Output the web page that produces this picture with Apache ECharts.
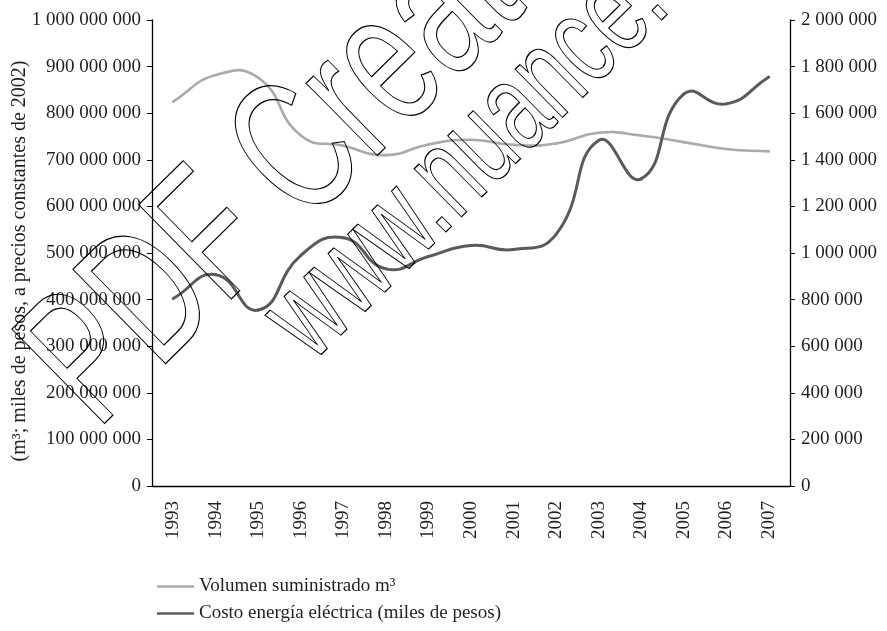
<!DOCTYPE html>
<html>
<head>
<meta charset="utf-8">
<script src="https://cdn.jsdelivr.net/npm/echarts@6/dist/echarts.min.js"></script>
<style>
  html, body { margin: 0; padding: 0; background: #fff; }
  #chart { width: 887px; height: 631px; }
</style>
</head>
<body>
<div id="chart"></div>
<script>
// Years on the category axis
const years = ['1993','1994','1995','1996','1997','1998','1999','2000','2001','2002','2003','2004','2005','2006','2007'];

// Volume supplied, m³ (left axis)
const volumen = [825e6, 882e6, 876e6, 752e6, 730e6, 710e6, 733e6, 743e6, 732e6, 735e6, 758e6, 752e6, 738e6, 723e6, 718e6];

// Electric energy cost, thousands of pesos (right axis)
const costo = [805000, 907000, 755000, 990000, 1065000, 932000, 985000, 1032000, 1015000, 1080000, 1483000, 1318000, 1682000, 1640000, 1755000];

const serieNames = ['Volumen suministrado m³', 'Costo energía eléctrica (miles de pesos)'];
const yAxisName = '(m³; miles de pesos, a precios constantes de 2002)';

const serif = '"Liberation Serif", "Times New Roman", serif';
const ink = '#231f20';

// thousands grouped with spaces: 1 000 000
const groupDigits = v => String(Math.round(v)).replace(/\B(?=(\d{3})+(?!\d))/g, ' ');

// Smoothed line through every data point (cubic Bézier segments, control
// points scaled by neighbouring segment lengths, no clamping).
function smoothLine(values, color, width) {
  const SMOOTH = 0.5;
  return function (params, api) {
    if (params.dataIndex !== 0) return null;
    const pts = values.map((v, i) => api.coord([i, v]));
    const n = pts.length;
    const before = [], after = [];
    for (let i = 0; i < n; i++) {
      const p = pts[i];
      const prev = pts[i - 1] || p;
      const next = pts[i + 1] || p;
      const vx = next[0] - prev[0], vy = next[1] - prev[1];
      const d0 = Math.hypot(p[0] - prev[0], p[1] - prev[1]);
      const d1 = Math.hypot(next[0] - p[0], next[1] - p[1]);
      const sum = d0 + d1 || 1;
      before.push([p[0] - vx * SMOOTH * d0 / sum, p[1] - vy * SMOOTH * d0 / sum]);
      after.push([p[0] + vx * SMOOTH * d1 / sum, p[1] + vy * SMOOTH * d1 / sum]);
    }
    const children = [];
    for (let i = 0; i < n - 1; i++) {
      children.push({
        type: 'bezierCurve',
        shape: {
          x1: pts[i][0], y1: pts[i][1],
          x2: pts[i + 1][0], y2: pts[i + 1][1],
          cpx1: after[i][0], cpy1: after[i][1],
          cpx2: before[i + 1][0], cpy2: before[i + 1][1]
        },
        style: { stroke: color, lineWidth: width, fill: null, lineCap: 'round', lineJoin: 'round' }
      });
    }
    return { type: 'group', children: children };
  };
}

// Outlined diagonal stamp text, letters stretched along their height
function stamp(text, x, y, deg, size, stretch) {
  return {
    type: 'text',
    x: x, y: y,
    rotation: deg * Math.PI / 180,
    scaleY: stretch,
    silent: true,
    z: 100,
    style: {
      text: text,
      x: 0,
      y: -0.35 * size,
      font: size + 'px "Liberation Sans", Arial, sans-serif',
      fill: 'none',
      stroke: '#000',
      lineWidth: 0.85,
      textAlign: 'left',
      textVerticalAlign: 'middle'
    }
  };
}

const chart = echarts.init(document.getElementById('chart'), null, { renderer: 'canvas' });

chart.setOption({
  animation: false,
  backgroundColor: '#fff',
  textStyle: { fontFamily: serif, color: ink },
  grid: { left: 152, right: 97, top: 20, bottom: 145, containLabel: false, outerBoundsMode: 'none' },
  legend: {
    orient: 'vertical',
    left: 152,
    top: 572,
    itemWidth: 37,
    itemHeight: 2.5,
    itemGap: 8,
    icon: 'rect',
    data: serieNames,
    textStyle: { fontFamily: serif, fontSize: 19, color: ink, lineHeight: 19 }
  },
  xAxis: {
    type: 'category',
    data: years,
    boundaryGap: true,
    axisLine: { lineStyle: { color: '#000', width: 1.3 } },
    axisTick: { inside: true, length: 6, alignWithLabel: true, lineStyle: { color: '#000', width: 1 } },
    axisLabel: { rotate: 90, margin: 15, fontSize: 19, fontFamily: serif, color: ink, interval: 0 },
    splitLine: { show: false }
  },
  yAxis: [
    {
      type: 'value',
      position: 'left',
      min: 0, max: 1e9, interval: 1e8,
      name: yAxisName,
      nameLocation: 'middle',
      nameRotate: 90,
      nameGap: 122,
      nameMoveOverlap: false,
      nameTextStyle: { fontFamily: serif, fontSize: 20, color: ink, padding: [0, 16, 0, 0] },
      axisLine: { show: true, lineStyle: { color: '#000', width: 1.3 } },
      axisTick: { show: true, length: 5, lineStyle: { color: '#000', width: 1 } },
      axisLabel: { margin: 11, fontSize: 19, fontFamily: serif, color: ink, formatter: groupDigits },
      splitLine: { show: false }
    },
    {
      type: 'value',
      position: 'right',
      min: 0, max: 2e6, interval: 2e5,
      axisLine: { show: true, lineStyle: { color: '#000', width: 1.3 } },
      axisTick: { show: true, length: 5, lineStyle: { color: '#000', width: 1 } },
      axisLabel: { margin: 11, fontSize: 19, fontFamily: serif, color: ink, formatter: groupDigits },
      splitLine: { show: false }
    }
  ],
  series: [
    {
      name: serieNames[0],
      type: 'custom',
      yAxisIndex: 0,
      data: volumen.map((v, i) => [i, v]),
      encode: { x: 0, y: 1 },
      itemStyle: { color: '#aaaaaa' },
      renderItem: smoothLine(volumen, '#aaaaaa', 2.6)
    },
    {
      name: serieNames[1],
      type: 'custom',
      yAxisIndex: 1,
      data: costo.map((v, i) => [i, v]),
      encode: { x: 0, y: 1 },
      itemStyle: { color: '#5a5a5a' },
      renderItem: smoothLine(costo, '#5a5a5a', 3)
    }
  ],
  graphic: [
    stamp('PDF Create!', 107, 441, 44.5, 128, 1.5),
    stamp('www.nuance.com', 319, 370, 44.5, 85, 1.5)
  ]
});
</script>
</body>
</html>
